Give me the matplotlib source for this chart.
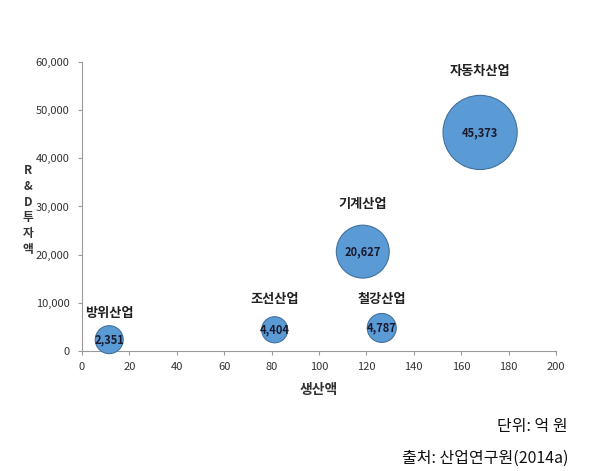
import matplotlib
matplotlib.use("Agg")
import matplotlib.pyplot as plt
from matplotlib.ticker import FuncFormatter

plt.rcParams['font.family'] = ['Noto Sans CJK KR', 'DejaVu Sans']

industries = ['방위산업', '조선산업', '철강산업', '기계산업', '자동차산업']
production = [11.5, 81.3, 126.5, 118.5, 168.0]
rnd_invest = [2351, 4404, 4787, 20627, 45373]
bubble_size = [780, 680, 840, 2800, 5500]

x_ticks = list(range(0, 201, 20))
y_ticks = list(range(0, 60001, 10000))

fig = plt.figure(figsize=(6.01, 4.71), dpi=100)
ax = fig.add_axes([0.1364, 0.2548, 0.7886, 0.6136])

px = 0.72  # points per pixel at 100 dpi
sizes = [b * px * px for b in bubble_size]
ax.scatter(production, rnd_invest, s=sizes, color='#5B9BD5',
           edgecolors='#41719C', linewidths=0.8, zorder=3, clip_on=False)

label_offsets_px = [27, 31, 29, 48, 61]
for name, xv, yv, val, off in zip(industries, production, rnd_invest, rnd_invest, label_offsets_px):
    ax.text(xv, yv, f"{val:,}", ha='center', va='center', fontsize=8,
            fontweight='bold', color='#1a1a2e', zorder=4)
    ax.annotate(name, (xv, yv), xytext=(0, off * px), textcoords='offset points',
                ha='center', va='center', fontsize=9.5, fontweight='bold', color='#222222')

ax.set_xlim(0, 200)
ax.set_ylim(0, 60000)
ax.set_xticks(x_ticks)
ax.set_yticks(y_ticks)
ax.yaxis.set_major_formatter(FuncFormatter(lambda v, p: f"{int(v):,}"))
for s in ['top', 'right']:
    ax.spines[s].set_visible(False)
for s in ['left', 'bottom']:
    ax.spines[s].set_color('#9a9a9a')
    ax.spines[s].set_linewidth(0.8)
ax.tick_params(axis='both', colors='#9a9a9a', length=3, width=0.8, labelsize=8,
               labelcolor='#333333')
ax.tick_params(axis='x', pad=5)
ax.tick_params(axis='y', pad=6)

ax.set_xlabel('생산액', fontsize=10, fontweight='bold', color='#333333', labelpad=8)
fig.text(28 / 601, 1 - 210 / 471, 'R\n&\nD\n투\n자\n액', ha='center', va='center',
         fontsize=8.5, fontweight='bold', color='#333333', linespacing=1.3)

fig.text(568 / 601, 1 - 426 / 471, '단위: 억 원', ha='right', va='center', fontsize=11.5, color='#111111')
fig.text(568 / 601, 1 - 458 / 471, '출처: 산업연구원(2014a)', ha='right', va='center', fontsize=11.5, color='#111111')

fig.savefig('out.png', dpi=100)
